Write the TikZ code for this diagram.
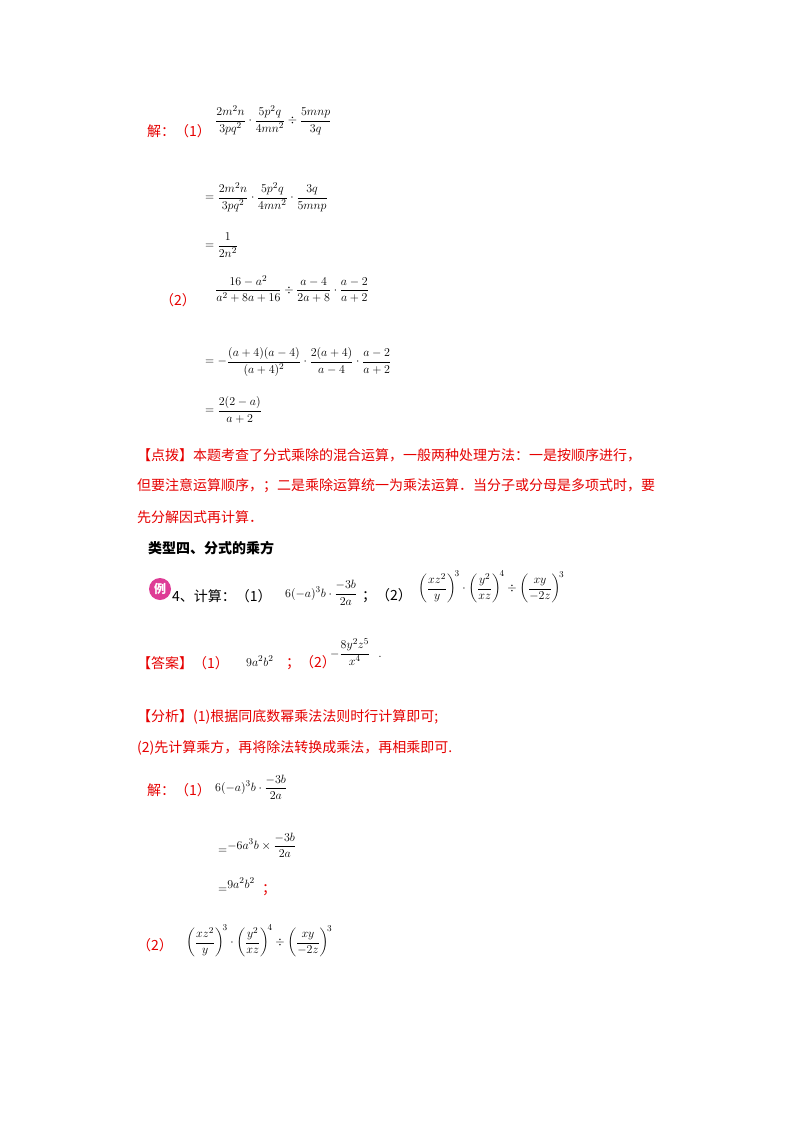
\documentclass[tikz,border=0pt]{standalone}
\usepackage{fontspec}
\usepackage{amsmath}
\newfontfamily\cjk{Noto Sans CJK SC}
\definecolor{rd}{RGB}{230,0,0}
\definecolor{pk}{RGB}{222,60,150}
\tikzset{t/.style={anchor=west,inner sep=0pt,font=\cjk\fontsize{14}{16}\selectfont},
 r/.style={t,text=rd},
 m/.style={anchor=west,inner sep=0pt,font=\fontsize{12.5}{15}\selectfont}}
\begin{document}
\begin{tikzpicture}[x=1pt,y=-1pt]
\useasboundingbox[fill=white] (0,0) rectangle (800,1132);
\node[r] (a1) at (147,131) {解：（1）};
\node[m] (a2) at (215,120) {$\dfrac{2m^2n}{3pq^2}\cdot\dfrac{5p^2q}{4mn^2}\div\dfrac{5mnp}{3q}$};
\node[m] (a3) at (205,197) {$=\dfrac{2m^2n}{3pq^2}\cdot\dfrac{5p^2q}{4mn^2}\cdot\dfrac{3q}{5mnp}$};
\node[m] (a4) at (205,245) {$=\dfrac{1}{2n^2}$};
\node[r] (b1) at (160,300) {（2）};
\node[m] (b2) at (215,289) {$\dfrac{16-a^2}{a^2+8a+16}\div\dfrac{a-4}{2a+8}\cdot\dfrac{a-2}{a+2}$};
\node[m] (b3) at (205,362) {$=-\dfrac{(a+4)(a-4)}{(a+4)^2}\cdot\dfrac{2(a+4)}{a-4}\cdot\dfrac{a-2}{a+2}$};
\node[m] (b4) at (205,410) {$=\dfrac{2(2-a)}{a+2}$};
\node[r] (c1) at (137,455) {【点拨】本题考查了分式乘除的混合运算，一般两种处理方法：一是按顺序进行，};
\node[r] (c2) at (137,486) {但要注意运算顺序，；二是乘除运算统一为乘法运算．当分子或分母是多项式时，要};
\node[r] (c3) at (137,517) {先分解因式再计算．};
\node[t,font=\cjk\bfseries\fontsize{14}{16}\selectfont] (d1) at (148,548) {类型四、分式的乘方};
\node[circle,fill=pk,minimum size=22pt,inner sep=0pt,text=white,font=\cjk\bfseries\fontsize{12}{12}\selectfont] (ic) at (160,589) {例};
\node[t] (d2) at (172,596) {4、计算：（1）};
\node[m] (d3) at (285,593) {$6(-a)^3b\cdot\dfrac{-3b}{2a}$};
\node[t] (d4) at (362,596) {；（2）};
\node[m] (d5) at (418,587) {$\left(\dfrac{xz^2}{y}\right)^{\!3}\cdot\left(\dfrac{y^2}{xz}\right)^{\!4}\div\left(\dfrac{xy}{-2z}\right)^{\!3}$};
\node[r] (e1) at (137,663) {【答案】（1）};
\node[m] (e2) at (246,661) {$9a^2b^2$};
\node[r] (e3) at (286,663) {；（2）};
\node[m] (e4) at (330,652) {$-\dfrac{8y^2z^5}{x^4}$\ \ .};
\node[r] (f1) at (137,717) {【分析】(1)根据同底数幂乘法法则时行计算即可;};
\node[r] (f2) at (137,748) {(2)先计算乘方，再将除法转换成乘法，再相乘即可.};
\node[r] (g1) at (147,790) {解：（1）};
\node[m] (g2) at (215,787) {$6(-a)^3b\cdot\dfrac{-3b}{2a}$};
\node[m] (g3) at (218,845) {$\raisebox{-4pt}{$=$}{-}6a^3b\times\dfrac{-3b}{2a}$};
\node[m] (g4) at (218,885) {$\raisebox{-4pt}{$=$}9a^2b^2$};
\node[r] (g5) at (262,890) {；};
\node[r] (h1) at (137,945) {（2）};
\node[m] (h2) at (186,941) {$\left(\dfrac{xz^2}{y}\right)^{\!3}\cdot\left(\dfrac{y^2}{xz}\right)^{\!4}\div\left(\dfrac{xy}{-2z}\right)^{\!3}$};
\end{tikzpicture}
\end{document}
